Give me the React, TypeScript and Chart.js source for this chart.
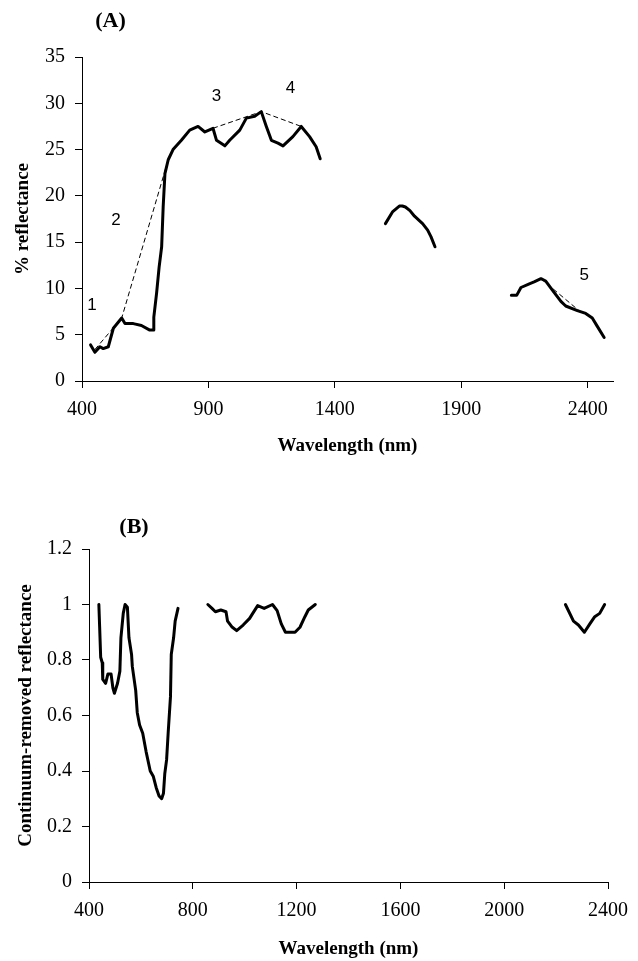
import { useEffect, useRef } from "react";
import { Chart, registerables } from "chart.js";

Chart.register(...registerables);

const serif = "'Liberation Serif', 'Times New Roman', serif";
const sans = "'Liberation Sans', Arial, sans-serif";

// ---- Panel A: % reflectance, three atmospheric windows ----
const wlA1 = [434, 451, 471, 484, 504, 524, 557, 570, 603, 635, 668, 681, 684, 695, 705, 715, 721, 728, 741, 760, 793, 826, 859, 886, 918, 932, 965, 984, 1024, 1050, 1083, 1109, 1129, 1149, 1175, 1195, 1234, 1267, 1300, 1326, 1342];
const refA1 = [3.9, 3.1, 3.7, 3.5, 3.7, 5.7, 6.8, 6.2, 6.2, 6.0, 5.5, 5.5, 6.9, 9.5, 12.3, 14.5, 18.8, 22.4, 23.9, 25.0, 26.0, 27.1, 27.5, 26.9, 27.3, 26.0, 25.4, 26.0, 27.1, 28.4, 28.6, 29.1, 27.5, 26.0, 25.7, 25.4, 26.4, 27.5, 26.4, 25.3, 24.0];

const wlA2 = [1600, 1629, 1655, 1667, 1679, 1697, 1715, 1747, 1767, 1780, 1796];
const refA2 = [17.0, 18.3, 18.9, 18.9, 18.8, 18.4, 17.8, 17.0, 16.3, 15.6, 14.5];

const wlA3 = [2098, 2119, 2136, 2169, 2188, 2215, 2234, 2261, 2294, 2313, 2359, 2392, 2418, 2438, 2465];
const refA3 = [9.25, 9.25, 10.1, 10.5, 10.7, 11.05, 10.8, 9.8, 8.6, 8.1, 7.6, 7.3, 6.8, 5.9, 4.7];

// Continuum hull (dashed)
const hullWl1 = [451, 557, 741];
const hullRef1 = [3.4, 6.8, 23.9];
const hullWl2 = [918, 1109, 1267];
const hullRef2 = [27.3, 29.1, 27.5];
const hullWl3 = [2215, 2370];
const hullRef3 = [11.05, 7.5];

// Absorption feature numbers
const featureNames = ["1", "2", "3", "4", "5"];
const featureWl = [439, 534, 932, 1224, 2386];
const featureRef = [8.2, 17.4, 30.8, 31.6, 11.45];

const xTicksA = [400, 900, 1400, 1900, 2400];
const yTicksA = [0, 5, 10, 15, 20, 25, 30, 35];

// ---- Panel B: continuum-removed reflectance ----
const wlB1 = [438, 441, 445, 451, 453, 464, 473, 485, 492, 498, 510, 519, 523, 532, 539, 548, 554, 564, 567, 580, 586, 595, 607, 620, 636, 648, 659, 670, 680, 687, 692, 699, 705, 714, 717, 726, 732, 743];
const crB1 = [1.0, 0.92, 0.81, 0.79, 0.73, 0.716, 0.75, 0.75, 0.70, 0.68, 0.716, 0.76, 0.88, 0.968, 1.0, 0.99, 0.88, 0.82, 0.776, 0.69, 0.61, 0.566, 0.536, 0.47, 0.40, 0.38, 0.34, 0.31, 0.30, 0.32, 0.39, 0.44, 0.536, 0.668, 0.82, 0.88, 0.94, 0.986];

const wlB2 = [858, 874, 887, 908, 928, 934, 950, 969, 994, 1019, 1031, 1050, 1075, 1107, 1125, 1141, 1157, 1194, 1213, 1232, 1245, 1272];
const crB2 = [1.0, 0.986, 0.974, 0.98, 0.974, 0.94, 0.92, 0.906, 0.926, 0.95, 0.968, 0.996, 0.986, 1.0, 0.978, 0.93, 0.90, 0.90, 0.918, 0.956, 0.98, 1.0];

const wlB3 = [2236, 2267, 2286, 2309, 2330, 2349, 2368, 2387];
const crB3 = [1.0, 0.94, 0.926, 0.90, 0.93, 0.956, 0.968, 1.0];

const xTicksB = [400, 800, 1200, 1600, 2000, 2400];
const yTicksB = [0, 0.2, 0.4, 0.6, 0.8, 1, 1.2];

const zip = (xs: number[], ys: number[]) => xs.map((x, i) => ({ x, y: ys[i] }));

const solid = (xs: number[], ys: number[]) => ({
  data: zip(xs, ys),
  showLine: true,
  borderColor: "#000",
  borderWidth: 3,
  borderJoinStyle: "round" as const,
  borderCapStyle: "round" as const,
  pointRadius: 0,
  pointHoverRadius: 0,
  tension: 0,
});

const dashed = (xs: number[], ys: number[]) => ({
  data: zip(xs, ys),
  showLine: true,
  borderColor: "#000",
  borderWidth: 1,
  borderDash: [5, 3],
  pointRadius: 0,
  pointHoverRadius: 0,
  tension: 0,
});

const fixedTicks = (values: number[]) => (scale: any) => {
  scale.ticks = values.map((value) => ({ value }));
};

const tickFont = { family: serif, size: 20 };
const titleFont = { family: serif, size: 19, weight: "bold" as const };

function axis(min: number, max: number, ticks: number[], fitSize: number, horizontal: boolean, title: string, titlePad: any) {
  return {
    type: "linear" as const,
    min,
    max,
    afterBuildTicks: fixedTicks(ticks),
    afterFit: (scale: any) => {
      if (horizontal) scale.height = fitSize;
      else scale.width = fitSize;
    },
    grid: {
      display: true,
      drawOnChartArea: false,
      drawTicks: true,
      tickLength: 7,
      color: "#000",
      lineWidth: 1,
    },
    border: { display: true, color: "#000", width: 1 },
    ticks: {
      color: "#000",
      font: tickFont,
      padding: horizontal ? 10 : 10,
      maxRotation: 0,
      autoSkip: false,
      callback: (v: any) => String(v),
    },
    title: {
      display: true,
      text: title,
      color: "#000",
      font: titleFont,
      padding: titlePad,
    },
  };
}

function panelTag(text: string, dx: number, dy: number) {
  return {
    id: "panelTag" + text,
    afterDraw(chart: any) {
      const { ctx, chartArea } = chart;
      ctx.save();
      ctx.fillStyle = "#000";
      ctx.font = `bold 22px ${serif}`;
      ctx.textAlign = "center";
      ctx.textBaseline = "middle";
      ctx.fillText(text, chartArea.left + dx, chartArea.top + dy);
      ctx.restore();
    },
  };
}

const featureLabels = {
  id: "featureLabels",
  afterDatasetsDraw(chart: any) {
    const { ctx, scales } = chart;
    ctx.save();
    ctx.fillStyle = "#000";
    ctx.font = `17px ${sans}`;
    ctx.textAlign = "center";
    ctx.textBaseline = "middle";
    featureNames.forEach((name, i) => {
      ctx.fillText(name, scales.x.getPixelForValue(featureWl[i]), scales.y.getPixelForValue(featureRef[i]));
    });
    ctx.restore();
  },
};

export default function App() {
  const refA = useRef<HTMLCanvasElement>(null);
  const refB = useRef<HTMLCanvasElement>(null);

  useEffect(() => {
    const chartA = new Chart(refA.current!, {
      type: "scatter",
      data: {
        datasets: [
          solid(wlA1, refA1),
          solid(wlA2, refA2),
          solid(wlA3, refA3),
          dashed(hullWl1, hullRef1),
          dashed(hullWl2, hullRef2),
          dashed(hullWl3, hullRef3),
        ],
      },
      options: {
        responsive: false,
        animation: false,
        layout: { padding: { top: 57, right: 25, left: 0, bottom: 0 } },
        plugins: { legend: { display: false }, tooltip: { enabled: false } },
        scales: {
          x: axis(400, 2500, xTicksA, 89, true, "Wavelength (nm)", { top: 0, bottom: 12.6 }),
          y: axis(0, 35, yTicksA, 82, false, "% reflectance", { top: 12, bottom: 0 }),
        },
      } as any,
      plugins: [panelTag("(A)", 28.5, -36), featureLabels],
    });

    const chartB = new Chart(refB.current!, {
      type: "scatter",
      data: {
        datasets: [solid(wlB1, crB1), solid(wlB2, crB2), solid(wlB3, crB3)],
      },
      options: {
        responsive: false,
        animation: false,
        layout: { padding: { top: 79, right: 20, left: 0, bottom: 0 } },
        plugins: { legend: { display: false }, tooltip: { enabled: false } },
        scales: {
          x: axis(400, 2400, xTicksB, 79, true, "Wavelength (nm)", { top: 0, bottom: 0.6 }),
          y: axis(0, 1.2, yTicksB, 89, false, "Continuum-removed reflectance", { top: 14.6, bottom: 0 }),
        },
      } as any,
      plugins: [panelTag("(B)", 45, -21.5)],
    });

    return () => {
      chartA.destroy();
      chartB.destroy();
    };
  }, []);

  return (
    <div style={{ position: "absolute", left: 0, top: 0, width: 638, height: 961, background: "#fff" }}>
      <canvas ref={refA} width={638} height={470} style={{ display: "block" }} />
      <canvas ref={refB} width={638} height={491} style={{ display: "block" }} />
    </div>
  );
}
